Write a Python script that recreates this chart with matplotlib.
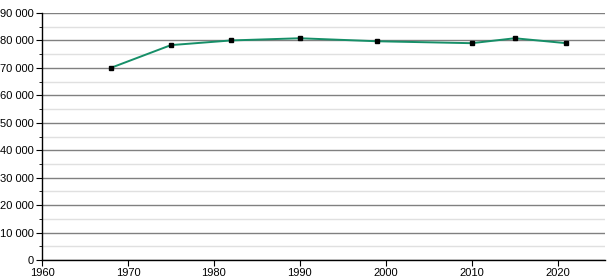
import matplotlib
matplotlib.use("Agg")
import matplotlib.pyplot as plt
from matplotlib.ticker import MultipleLocator, FuncFormatter

years = [1968, 1975, 1982, 1990, 1999, 2010, 2015, 2021]
population = [70000, 78300, 80000, 80800, 79700, 79000, 80800, 79000]

plt.rcParams['font.family'] = ['Liberation Sans', 'DejaVu Sans']

fig = plt.figure(figsize=(6.15, 2.8), dpi=100)
ax = fig.add_axes([42/615, 20/280, (605-42)/615, (260-13)/280])

ax.set_xlim(1960, 2025.5)
ax.set_ylim(0, 90000)
ax.yaxis.set_major_locator(MultipleLocator(10000))
ax.yaxis.set_minor_locator(MultipleLocator(5000))
ax.xaxis.set_major_locator(MultipleLocator(10))
ax.yaxis.set_major_formatter(FuncFormatter(lambda v, p: f"{int(v):,}".replace(",", " ")))

ax.grid(axis='y', which='major', color='#808080', linewidth=1.0)
ax.grid(axis='y', which='minor', color='#e0e0e0', linewidth=1.0)
ax.set_axisbelow(True)

ax.plot(years, population, color='#168f68', linewidth=1.4, zorder=3)
ax.plot(years, population, linestyle='none', marker='s', markersize=3.2,
        color='black', zorder=4)

for s in ['top', 'right']:
    ax.spines[s].set_visible(False)
for s in ['left', 'bottom']:
    ax.spines[s].set_color('black')
    ax.spines[s].set_linewidth(1.0)

ax.tick_params(axis='both', which='major', direction='out', length=4,
               labelsize=8, colors='black', pad=2)
ax.tick_params(axis='y', which='minor', direction='out', length=2)

fig.savefig('out.png', dpi=100)
